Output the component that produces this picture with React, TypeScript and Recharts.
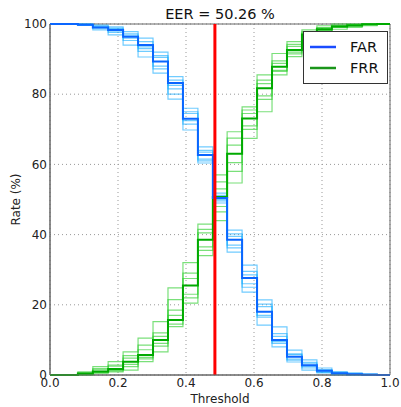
import {
  LineChart,
  Line,
  XAxis,
  YAxis,
  CartesianGrid,
  ReferenceLine,
  ReferenceArea,
  Legend,
} from 'recharts';

// step edges of the threshold axis (last point closes the final step)
const thresholds = [
  0, 0.082, 0.126, 0.171, 0.215, 0.259, 0.303, 0.347, 0.391, 0.435, 0.479, 0.521,
  0.565, 0.609, 0.653, 0.697, 0.741, 0.785, 0.829, 0.874, 0.918, 0.962, 1.0,
];

const farMean = [100, 99.8, 99, 98.3, 96.4, 94, 89.3, 83.2, 73, 62.7, 50.4, 38.5, 27.6, 18, 10, 5.2, 2.8, 1.2, 0.5, 0.2, 0.1, 0, 0];
const frrMean = [0, 0.4, 1, 1.7, 3.8, 5.7, 10, 15.7, 25.5, 38.5, 50.7, 63, 73.1, 81.7, 87.8, 92.6, 97, 98.5, 99.3, 99.6, 99.9, 100, 100];

// individual runs (thin lines)
const farRuns = [
  [100, 100, 99.7, 99.2, 97.8, 96, 92, 85, 76, 65, 51.8, 41.3, 31.3, 21.4, 13.7, 7.1, 4.3, 2, 1, 0.6, 0.3, 0, 0],
  [100, 99.7, 98.3, 96.9, 94, 90.6, 86, 78.6, 69.8, 60.4, 49, 35, 23.6, 14.2, 8, 3.7, 1.4, 0.6, 0, 0, 0, 0, 0],
  [100, 99.9, 99.2, 98.6, 96, 93, 90.5, 84, 74.5, 63.5, 50.8, 37, 28.5, 19.5, 11, 6, 3.2, 1.5, 0.7, 0.3, 0.1, 0, 0],
  [100, 99.8, 98.8, 97.6, 96.8, 95, 88, 81.5, 71.5, 61.5, 49.6, 39.5, 26, 16.5, 9, 4.5, 2.4, 0.9, 0.3, 0.1, 0, 0, 0],
  [100, 100, 99.4, 98, 95.3, 93.5, 91, 82.5, 72.5, 64, 51.2, 40.2, 29.5, 17, 11.8, 5.8, 2, 1.4, 0.6, 0.4, 0.2, 0, 0],
  [100, 99.6, 99, 98.8, 97.2, 92.2, 87.2, 80, 75, 61, 50, 36.2, 25, 20.2, 9.5, 4.2, 3.6, 0.8, 0.2, 0, 0, 0, 0],
];
const frrRuns = [
  [0, 0.9, 2.4, 3.8, 6.6, 10.5, 15.2, 24.8, 32, 43, 57, 69.3, 76.4, 85.5, 91.6, 95, 98.3, 99.5, 100, 100, 100, 100, 100],
  [0, 0, 0.5, 0.9, 1.4, 3.8, 6.6, 13.8, 20.5, 34, 44, 54.7, 67.4, 75, 85.5, 90.7, 96.4, 97.5, 98.5, 99, 99.5, 100, 100],
  [0, 0.6, 1.5, 2.5, 4.8, 7.2, 12, 18.5, 27.5, 40.5, 53, 65.5, 74.5, 83, 89.5, 93.6, 97.4, 98.8, 99.5, 99.8, 100, 100, 100],
  [0, 0.2, 0.8, 1.2, 3, 4.6, 8.2, 14.5, 23, 36.5, 48, 60.5, 71, 79.5, 86.5, 91.5, 96.8, 98.2, 99, 99.4, 99.8, 100, 100],
  [0, 0.4, 1.8, 2.8, 5.5, 8.5, 11, 21.5, 29, 41.5, 55, 67.5, 70, 84, 88.8, 94.2, 97.8, 99, 99.6, 99.9, 100, 100, 100],
  [0, 0, 0.7, 1.4, 2.4, 5, 9, 17, 22, 35.5, 46.5, 58, 75.5, 78.5, 86.8, 92, 96.6, 98, 99.2, 99.5, 99.8, 100, 100],
];

const eerThreshold = 0.485;
const eerValue = 50.26;
const xTicks = [0, 0.2, 0.4, 0.6, 0.8, 1.0];
const yTicks = [0, 20, 40, 60, 80, 100];

const legendItems = [
  { name: 'FAR', color: '#1a4cff' },
  { name: 'FRR', color: '#1a951a' },
];

const data = thresholds.map((t, i) => {
  const row: Record<string, number> = { t, far: farMean[i], frr: frrMean[i] };
  farRuns.forEach((r, k) => (row[`far${k}`] = r[i]));
  frrRuns.forEach((r, k) => (row[`frr${k}`] = r[i]));
  return row;
});

const FONT = '"DejaVu Sans", sans-serif';

function LegendBox() {
  return (
    <div
      style={{
        border: '1px solid #333',
        background: '#fff',
        padding: '4px 0 5px 6px',
        fontFamily: FONT,
        fontSize: 14.5,
        color: '#111',
      }}
    >
      {legendItems.map((it) => (
        <div key={it.name} style={{ display: 'flex', alignItems: 'center', height: 21 }}>
          <svg width={26} height={4} style={{ marginRight: 14 }}>
            <line x1={0} y1={2} x2={26} y2={2} stroke={it.color} strokeWidth={2.5} />
          </svg>
          <span>{it.name}</span>
        </div>
      ))}
    </div>
  );
}

export default function App() {
  return (
    <div
      style={{
        position: 'absolute',
        left: 0,
        top: 0,
        width: 401,
        height: 407,
        background: '#fff',
        fontFamily: FONT,
      }}
    >
      <div
        style={{
          position: 'absolute',
          left: 50,
          width: 340,
          top: 7,
          lineHeight: '14px',
          textAlign: 'center',
          fontSize: 14.5,
          color: '#111',
        }}
      >
        EER = {eerValue.toFixed(2)} %
      </div>
      <LineChart width={401} height={407} data={data} margin={{ top: 24, right: 11, bottom: 0, left: 0 }}>
        <CartesianGrid stroke="#999" strokeDasharray="1 3" />
        <XAxis
          dataKey="t"
          type="number"
          domain={[0, 1]}
          ticks={xTicks}
          tickFormatter={(v: number) => v.toFixed(1)}
          height={32}
          stroke="#666"
          tickLine={false}
          tickSize={2}
          tickMargin={1}
          tick={{ fill: '#222', fontSize: 12 }}
          label={{ value: 'Threshold', position: 'insideBottom', offset: 4, fill: '#222', fontSize: 12 }}
        />
        <YAxis
          type="number"
          domain={[0, 100]}
          ticks={yTicks}
          width={50}
          stroke="#666"
          tickLine={false}
          tickSize={2}
          tickMargin={1}
          tick={{ fill: '#222', fontSize: 12 }}
          label={{
            value: 'Rate (%)',
            angle: -90,
            position: 'insideLeft',
            offset: 16,
            fill: '#222',
            fontSize: 12,
            style: { textAnchor: 'middle' },
          }}
        />
        <ReferenceArea x1={0} x2={1} y1={0} y2={100} fill="none" stroke="#666" strokeWidth={1} />
        {frrRuns.map((_, k) => (
          <Line
            key={`frr${k}`}
            dataKey={`frr${k}`}
            type="stepAfter"
            stroke="#22cc22"
            strokeOpacity={0.6}
            strokeWidth={1.2}
            dot={false}
            legendType="none"
            isAnimationActive={false}
          />
        ))}
        {farRuns.map((_, k) => (
          <Line
            key={`far${k}`}
            dataKey={`far${k}`}
            type="stepAfter"
            stroke="#11aaff"
            strokeOpacity={0.6}
            strokeWidth={1.2}
            dot={false}
            legendType="none"
            isAnimationActive={false}
          />
        ))}
        <Line dataKey="frr" name="FRR" type="stepAfter" stroke="#00aa00" strokeWidth={2} dot={false} isAnimationActive={false} />
        <Line dataKey="far" name="FAR" type="stepAfter" stroke="#0a66ff" strokeWidth={2} dot={false} isAnimationActive={false} />
        <ReferenceLine x={eerThreshold} stroke="#ff0000" strokeWidth={3} />
        <Legend
          layout="vertical"
          align="center"
          verticalAlign="middle"
          wrapperStyle={{ top: 31, left: 303, width: 85 }}
          content={() => <LegendBox />}
        />
      </LineChart>
    </div>
  );
}
